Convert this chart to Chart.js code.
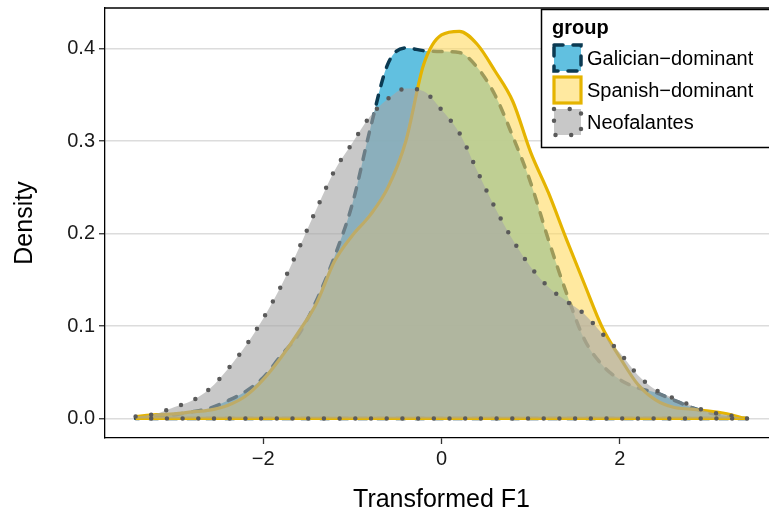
<!DOCTYPE html>
<html>
	<head>
		<meta charset="UTF-8">
		<title>Transformed F1 density</title>
		<script src="https://cdn.jsdelivr.net/npm/chart.js@4.4.1/dist/chart.umd.min.js"></script>
		<style>
			html, body { margin: 0; padding: 0; overflow: hidden; background: #fff; }
			#grafico { display: block; }
		</style>
	</head>
	<body>
		<canvas id="grafico" width="780" height="517"></canvas>
		<script>
			// values
			var xGrid = [-3.43, -3.2, -3.0, -2.8, -2.6, -2.4, -2.2, -2.0, -1.8, -1.6, -1.4, -1.2, -1.0, -0.8, -0.6, -0.4, -0.2, 0.0,
				0.2, 0.4, 0.6, 0.8, 1.0, 1.2, 1.4, 1.6, 1.8, 2.0, 2.2, 2.4, 2.6, 2.8, 3.0, 3.2, 3.43];
			var galician = [0.001, 0.002, 0.004, 0.007, 0.011, 0.019, 0.029, 0.044, 0.068, 0.091, 0.128, 0.175, 0.232, 0.313, 0.384, 0.401, 0.398, 0.397,
				0.396, 0.380, 0.350, 0.305, 0.255, 0.193, 0.136, 0.086, 0.058, 0.042, 0.033, 0.028, 0.020, 0.012, 0.006, 0.003, 0.0];
			var spanish = [0.002, 0.004, 0.005, 0.007, 0.009, 0.014, 0.024, 0.042, 0.066, 0.094, 0.125, 0.170, 0.198, 0.220, 0.250, 0.300, 0.383, 0.415,
				0.419, 0.405, 0.376, 0.343, 0.288, 0.244, 0.194, 0.146, 0.099, 0.066, 0.037, 0.020, 0.012, 0.010, 0.008, 0.005, 0.0];
			var neofalantes = [0.002, 0.005, 0.012, 0.019, 0.032, 0.053, 0.078, 0.108, 0.143, 0.184, 0.227, 0.268, 0.298, 0.327, 0.346, 0.357, 0.354, 0.334,
				0.309, 0.268, 0.228, 0.193, 0.164, 0.142, 0.127, 0.113, 0.092, 0.071, 0.047, 0.031, 0.022, 0.014, 0.007, 0.004, 0.0];
			var groupNames = ["Galician\u2212dominant", "Spanish\u2212dominant", "Neofalantes"];
			var xTicks = [-2, 0, 2];
			var yTicks = [0, 0.1, 0.2, 0.3, 0.4];

			var FONT = "'Liberation Sans', Arial, sans-serif";

			// curve left to right, then back along zero so the outline includes the baseline
			function polygon(values){
				var pts = xGrid.map(function(x, i){ return {x: x, y: values[i]}; });
				pts.push({x: xGrid[0], y: 0});
				return pts;
			}

			var legendBox = {
				id: 'legendBox',
				afterDraw: function(chart){
					var ctx = chart.ctx;
					var ds = chart.data.datasets;
					var bx = 541, by = 9;
					ctx.save();
					ctx.fillStyle = '#fff';
					ctx.fillRect(bx, by, 260, 138);
					ctx.strokeStyle = '#000';
					ctx.lineWidth = 1.5;
					ctx.strokeRect(bx + 0.5, by + 0.5, 260, 138);

					ctx.fillStyle = '#000';
					ctx.textBaseline = 'middle';
					ctx.textAlign = 'left';
					ctx.font = "bold 20px " + FONT;
					ctx.fillText("group", 552, 28);

					ctx.font = "20px " + FONT;
					for (var i = 0; i < ds.length; i++) {
						var cy = 58 + i * 32;
						var kx = 554, ky = cy - 13, kw = 27, kh = 26;
						ctx.fillStyle = ds[i].backgroundColor;
						ctx.fillRect(kx, ky, kw, kh);
						ctx.strokeStyle = ds[i].borderColor;
						ctx.lineWidth = ds[i].borderWidth;
						ctx.lineCap = ds[i].borderCapStyle || 'butt';
						ctx.setLineDash(ds[i].borderDash || []);
						ctx.strokeRect(kx, ky, kw, kh);
						ctx.setLineDash([]);
						ctx.fillStyle = '#000';
						ctx.fillText(ds[i].label, 587, cy + 1);
					}
					ctx.restore();
				}
			};

			var topBorder = {
				id: 'topBorder',
				afterDatasetsDraw: function(chart){
					var a = chart.chartArea, ctx = chart.ctx;
					ctx.save();
					ctx.strokeStyle = '#000';
					ctx.lineWidth = 1.3;
					ctx.beginPath();
					ctx.moveTo(a.left, a.top);
					ctx.lineTo(a.right, a.top);
					ctx.stroke();
					ctx.restore();
				}
			};

			var ctx = document.getElementById("grafico");
			var grafico = new Chart(ctx, {
				type: 'line',
				data: {
					datasets: [
						{
							label: groupNames[0],
							data: polygon(galician),
							order: 3,
							fill: 'shape',
							backgroundColor: 'rgba(69,181,218,0.85)',
							borderColor: '#0b3a52',
							borderWidth: 3.5,
							borderDash: [9, 10],
							borderCapStyle: 'round'
						},
						{
							label: groupNames[1],
							data: polygon(spanish),
							order: 2,
							fill: 'shape',
							backgroundColor: 'rgba(255,218,97,0.6)',
							borderColor: '#e5b400',
							borderWidth: 3.2
						},
						{
							label: groupNames[2],
							data: polygon(neofalantes),
							order: 1,
							fill: 'shape',
							backgroundColor: 'rgba(166,166,166,0.62)',
							borderColor: '#5a5a5a',
							borderWidth: 4.5,
							borderDash: [0, 15.7],
							borderCapStyle: 'round'
						}
					]
				},
				options: {
					responsive: false,
					animation: false,
					devicePixelRatio: 1,
					elements: { point: { radius: 0 }, line: { cubicInterpolationMode: 'monotone' } },
					layout: { padding: { top: 0, right: 2, left: 0, bottom: 0 } },
					plugins: { legend: { display: false }, tooltip: { enabled: false } },
					scales: {
						x: {
							type: 'linear',
							min: -3.773,
							max: 3.773,
							afterFit: function(s){ s.height = 79; s.paddingLeft = 0; s.paddingRight = 0; },
							afterBuildTicks: function(s){ s.ticks = xTicks.map(function(v){ return {value: v}; }); },
							ticks: {
								color: '#1a1a1a',
								padding: 3,
								maxRotation: 0,
								font: { family: FONT, size: 20 },
								callback: function(v){ return v < 0 ? '\u2212' + Math.abs(v) : String(v); }
							},
							grid: { drawOnChartArea: false, drawTicks: true, tickLength: 6, tickColor: '#333', tickWidth: 1.3 },
							border: { display: true, color: '#000', width: 1.3 },
							title: { display: true, text: 'Transformed F1', color: '#000', font: { family: FONT, size: 25 }, padding: { top: 0, bottom: 2 } }
						},
						y: {
							min: -0.0212,
							max: 0.4442,
							afterFit: function(s){ s.width = 105; s.paddingTop = 8; s.paddingBottom = 0; },
							afterBuildTicks: function(s){ s.ticks = yTicks.map(function(v){ return {value: v}; }); },
							ticks: {
								color: '#1a1a1a',
								padding: 4,
								font: { family: FONT, size: 20 },
								callback: function(v){ return v.toFixed(1); }
							},
							grid: { color: '#dcdcdc', lineWidth: 1.5, tickLength: 6, tickColor: '#333', tickWidth: 1.3 },
							border: { display: true, color: '#000', width: 1.3 },
							title: { display: true, text: 'Density', color: '#000', font: { family: FONT, size: 25 }, padding: { top: 10, bottom: 0 } }
						}
					}
				},
				plugins: [topBorder, legendBox]
			});
		</script>
	</body>
</html>
